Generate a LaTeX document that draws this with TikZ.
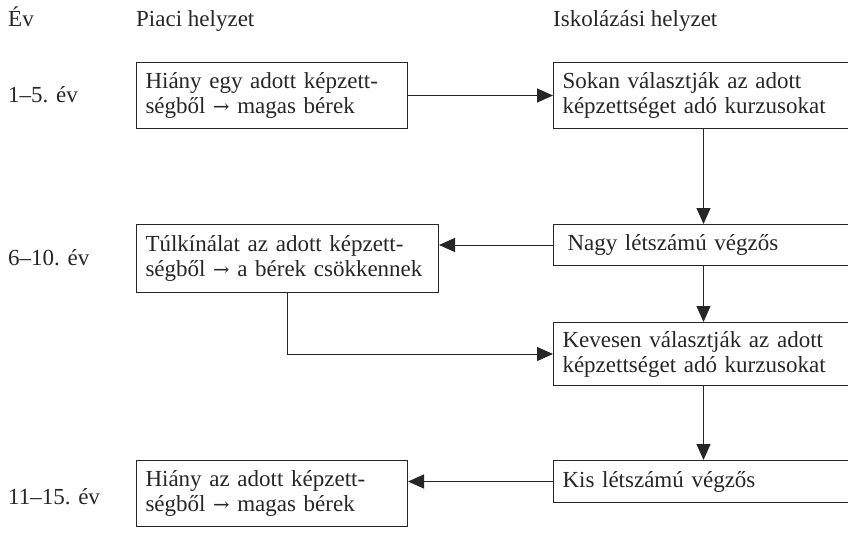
\documentclass[tikz,border=0pt]{standalone}
\usepackage{fontspec}
\setmainfont{Liberation Serif}
\newfontfamily\arrfont[Scale=0.85]{DejaVu Serif}
\newcommand{\nyil}{{\arrfont →}}
\usetikzlibrary{arrows.meta}

\tikzset{
	box/.style={draw, line width=1pt, anchor=north west, align=left, inner xsep=9pt, text width=#1},
	lbl/.style={anchor=base west, inner sep=0pt},
	every node/.style={font=\fontsize{23}{25}\selectfont, text=black!85},
	link/.style={line width=1pt, -{Triangle[length=16pt,width=14pt]}},
}

\begin{document}
\begin{tikzpicture}[x=1pt,y=-1pt,draw=black!85]
		\clip (0,0) rectangle (848,536);
		\useasboundingbox (0,0) rectangle (848,536);
		% fejlec
		\node [lbl] (ev) at (8,26) {Év};
		\node [lbl] (piac) at (136,26) {Piaci helyzet};
		\node [lbl] (iskola) at (553,26) {Iskolázási helyzet};
		% evek
		\node [lbl] (ev1) at (8,102) {1–5. év};
		\node [lbl] (ev2) at (8,265) {6–10. év};
		\node [lbl] (ev3) at (8,504) {11–15. év};
		% dobozok
		\node [box=253pt,minimum height=66pt] (hiany) at (136,62) {Hiány egy adott képzett-\\\mbox{ségből \nyil{} magas bérek}};
		\node [box=282pt,minimum height=66pt] (sokan) at (553,62) {Sokan választják az adott\\képzettséget adó kurzusokat};
		\node [box=282pt,minimum height=41pt] (nagy) at (553,224) {\hspace{5pt}Nagy létszámú végzős};
		\node [box=284pt,minimum height=68pt] (tul) at (136,224) {Túlkínálat az adott képzett-\\\mbox{ségből \nyil{} a bérek csökkennek}};
		\node [box=282pt,minimum height=63pt] (keves) at (553,322) {Kevesen választják az adott\\képzettséget adó kurzusokat};
		\node [box=282pt,minimum height=42pt] (kis) at (553,460) {Kis létszámú végzős};
		\node [box=253pt,minimum height=66pt] (hiany2) at (136,460) {Hiány az adott képzett-\\\mbox{ségből \nyil{} magas bérek}};
		% nyilak
		\draw [link] (hiany) -- (sokan);
		\draw [link] (sokan) -- (nagy);
		\draw [link] (nagy.west) -- (nagy.west -| tul.east);
		\draw [link] (nagy) -- (keves);
		\draw [link] (tul) |- (keves);
		\draw [link] (keves) -- (kis);
		\draw [link] (kis.west) -- (kis.west -| hiany2.east);
\end{tikzpicture}
\end{document}
